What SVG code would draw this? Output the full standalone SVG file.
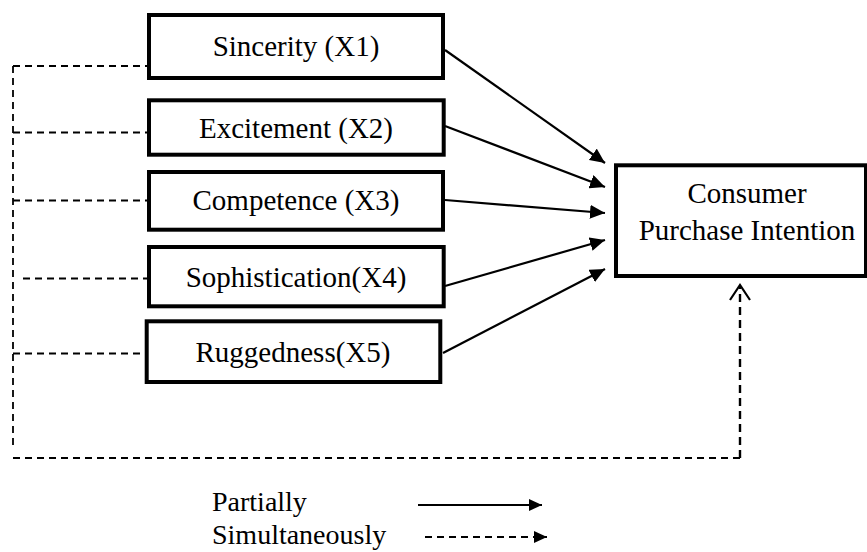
<svg xmlns="http://www.w3.org/2000/svg" width="867" height="552" viewBox="0 0 867 552">
<style>
.box{fill:#fff;stroke:#000;stroke-width:4}
.lbl{font-family:"Liberation Serif","Times New Roman",serif;font-size:29px;fill:#000;text-anchor:middle}
.leg{font-family:"Liberation Serif","Times New Roman",serif;font-size:28px;fill:#000}
.solid{stroke:#000;stroke-width:2.2;fill:none}
.dash{stroke:#000;stroke-width:1.8;fill:none;stroke-dasharray:7 5}
.dash2{stroke:#000;stroke-width:2.4;fill:none;stroke-dasharray:8 5}
</style>
<defs>
<marker id="ah" markerUnits="userSpaceOnUse" markerWidth="16" markerHeight="14" refX="15" refY="7" orient="auto">
<path d="M0,0 L15,7 L0,14 Z" fill="#000"/>
</marker>
<marker id="ahs" markerUnits="userSpaceOnUse" markerWidth="14" markerHeight="14" refX="13" refY="7" orient="auto">
<path d="M0,1 L13,7 L0,13 Z" fill="#000"/>
</marker>
</defs>
<rect width="867" height="552" fill="#fff"/>
<g id="connectors">
<line class="solid" x1="445" y1="50" x2="605" y2="163" marker-end="url(#ah)"/>
<line class="solid" x1="445" y1="126" x2="605" y2="187" marker-end="url(#ah)"/>
<line class="solid" x1="445" y1="200" x2="605" y2="213" marker-end="url(#ah)"/>
<line class="solid" x1="445" y1="286" x2="605" y2="240" marker-end="url(#ah)"/>
<line class="solid" x1="443" y1="353" x2="605" y2="269" marker-end="url(#ah)"/>
<line class="dash" x1="13" y1="66" x2="147" y2="66"/>
<line class="dash" x1="13" y1="132.5" x2="147" y2="132.5"/>
<line class="dash" x1="13" y1="200.5" x2="147" y2="200.5"/>
<line class="dash" x1="23" y1="278.5" x2="147" y2="278.5"/>
<line class="dash" x1="13" y1="353.5" x2="145" y2="353.5"/>
<line class="dash" x1="13" y1="66" x2="13" y2="450"/>
<line class="dash" x1="13" y1="458" x2="740" y2="458"/>
<line class="dash2" x1="740" y1="458" x2="740" y2="287"/>
<path d="M730,300 L740,285 L750,300" class="solid" stroke-width="2.6"/>
</g>
<g id="n1"><rect class="box" x="149" y="15" width="294" height="63"/><text class="lbl" x="296" y="56">Sincerity (X1)</text></g>
<g id="n2"><rect class="box" x="149" y="100.3" width="294.7" height="54.4"/><text class="lbl" x="296" y="138">Excitement (X2)</text></g>
<g id="n3"><rect class="box" x="149" y="172" width="294" height="57.7"/><text class="lbl" x="296" y="210">Competence (X3)</text></g>
<g id="n4"><rect class="box" x="149" y="247" width="294.7" height="59.3"/><text class="lbl" x="296" y="286.5">Sophistication(X4)</text></g>
<g id="n5"><rect class="box" x="146.7" y="321.3" width="293.6" height="60.7"/><text class="lbl" x="293" y="361.5">Ruggedness(X5)</text></g>
<g id="cpi"><rect class="box" x="616" y="165.3" width="250" height="110.7"/><text class="lbl" x="747" y="203">Consumer</text><text class="lbl" x="747" y="240">Purchase Intention</text></g>
<g id="legend">
<text class="leg" x="212" y="511">Partially</text>
<text class="leg" x="212" y="544">Simultaneously</text>
<line class="solid" x1="418" y1="505" x2="542" y2="505" marker-end="url(#ahs)"/>
<line class="dash" x1="425" y1="537" x2="547" y2="537" stroke-width="2.2" marker-end="url(#ahs)"/>
</g>
</svg>
